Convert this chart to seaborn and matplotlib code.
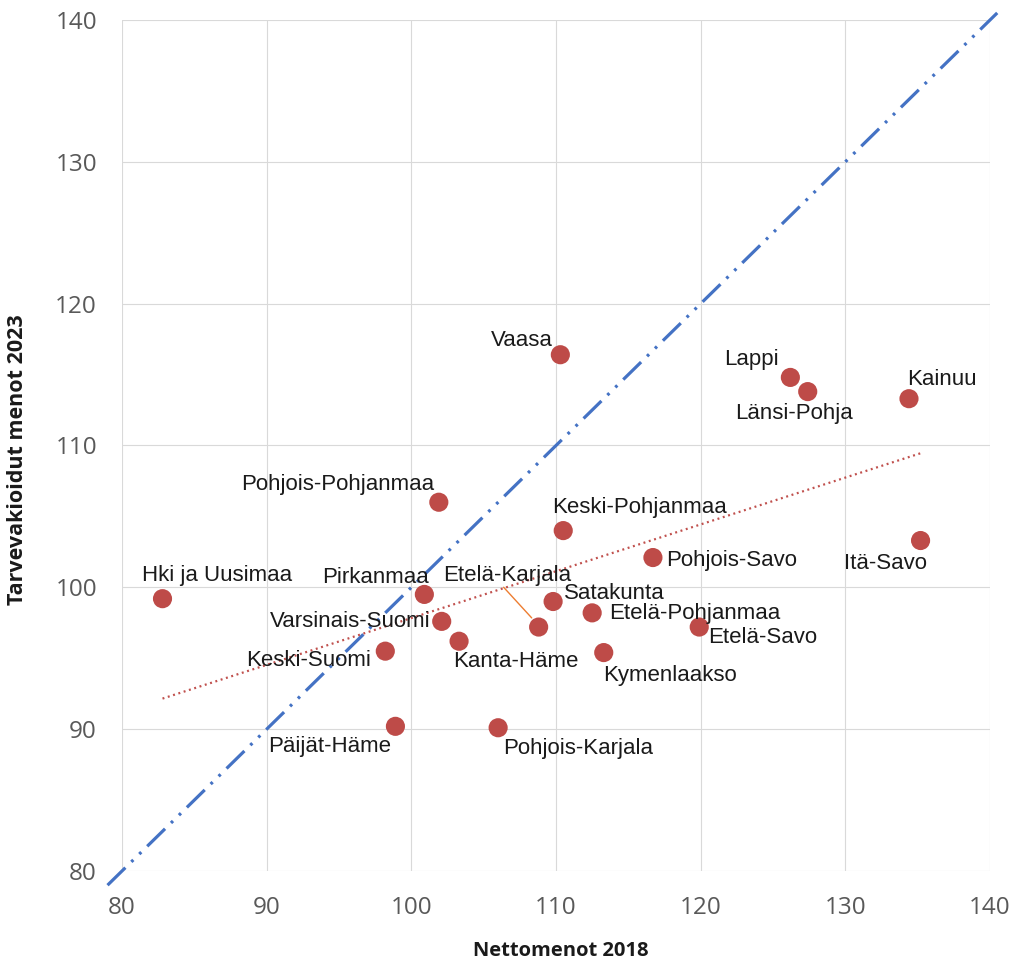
import numpy as np
import pandas as pd
import matplotlib
matplotlib.use("Agg")
import matplotlib.pyplot as plt
import seaborn as sns

# Regional spending indices
regions = ["Hki ja Uusimaa", "Pohjois-Pohjanmaa", "Pirkanmaa", "Varsinais-Suomi",
           "Keski-Suomi", "Kanta-Häme", "Päijät-Häme", "Pohjois-Karjala",
           "Etelä-Karjala", "Satakunta", "Vaasa", "Keski-Pohjanmaa",
           "Etelä-Pohjanmaa", "Kymenlaakso", "Pohjois-Savo", "Etelä-Savo",
           "Lappi", "Länsi-Pohja", "Kainuu", "Itä-Savo"]
netto_2018 = [82.8, 101.9, 100.9, 102.1, 98.2, 103.3, 98.9, 106.0,
              108.8, 109.8, 110.3, 110.5, 112.5, 113.3, 116.7, 119.9,
              126.2, 127.4, 134.4, 135.2]
tarve_2023 = [99.2, 106.0, 99.5, 97.6, 95.5, 96.2, 90.2, 90.1,
              97.2, 99.0, 116.4, 104.0, 98.2, 95.4, 102.1, 97.2,
              114.8, 113.8, 113.3, 103.3]

x_ticks = [80, 90, 100, 110, 120, 130, 140]
y_ticks = [80, 90, 100, 110, 120, 130, 140]
x_title = "Nettomenot 2018"
y_title = "Tarvevakioidut menot 2023"

# Label offsets (points) relative to each marker
label_offsets = {
    "Hki ja Uusimaa": (39, 17), "Pohjois-Pohjanmaa": (-73, 13),
    "Pirkanmaa": (-35, 12), "Varsinais-Suomi": (-66, 0),
    "Keski-Suomi": (-55, -6.5), "Kanta-Häme": (41, -14.5),
    "Päijät-Häme": (-47.5, -14.5), "Pohjois-Karjala": (57.5, -15),
    "Etelä-Karjala": (-23, 37), "Satakunta": (44, 6),
    "Vaasa": (-27.5, 10), "Keski-Pohjanmaa": (55, 16.5),
    "Etelä-Pohjanmaa": (73.5, -0.7), "Kymenlaakso": (48, -16.5),
    "Pohjois-Savo": (57, -2.2), "Etelä-Savo": (45.5, -7.2),
    "Lappi": (-28, 13), "Länsi-Pohja": (-10, -16),
    "Kainuu": (24, 13.5), "Itä-Savo": (-25, -16.5),
}

df = pd.DataFrame({"region": regions, "x": netto_2018, "y": tarve_2023})

sns.set_theme(style="white")
plt.rcParams["lines.scale_dashes"] = False

W, H = 1014, 961
fig = plt.figure(figsize=(W / 100, H / 100), dpi=100)
ax = fig.add_axes([122 / W, 1 - 871 / H, 868 / W, 851 / H])

# Equality line y = x
diag = np.array([79.0, 140.5])
ax.plot(diag, diag, color="#4472C4", linewidth=2.3, clip_on=False,
        dashes=(18, 6, 2, 6, 2, 6), zorder=2)

# Linear trend across the observed range
slope, intercept = np.polyfit(df["x"], df["y"], 1)
tx = np.array([df["x"].min(), df["x"].max()])
ax.plot(tx, slope * tx + intercept, color="#C0504D", linewidth=1.6,
        dashes=(1.4, 2.6), zorder=2)

sns.scatterplot(data=df, x="x", y="y", ax=ax, s=190, color="#BE4B48",
                edgecolor="none", zorder=3, legend=False)

ax.set_xlim(80, 140)
ax.set_ylim(80, 140)
ax.set_xticks(x_ticks)
ax.set_yticks(y_ticks)
ax.set_xlabel("")
ax.set_ylabel("")
ax.grid(True, color="#D9D9D9", linewidth=0.8)
ax.set_axisbelow(True)
for s in ax.spines.values():
    s.set_visible(False)

for name, xv, yv in zip(regions, netto_2018, tarve_2023):
    dx, dy = label_offsets[name]
    ax.annotate(name, (xv, yv), xytext=(dx, dy), textcoords="offset points",
                ha="center", va="center", fontsize=16, color="#1a1a1a",
                family=["Liberation Sans", "DejaVu Sans"], zorder=4)

# Leader line for the displaced label
ek = regions.index("Etelä-Karjala")
ax.annotate("", xy=(netto_2018[ek] - 0.35, tarve_2023[ek] + 0.5),
            xytext=(106.25, 100.15),
            arrowprops=dict(arrowstyle="-", color="#ED7D31", linewidth=1.0))

ax.tick_params(axis="both", length=0, labelsize=17.5, labelcolor="#595959")
ax.tick_params(axis="y", pad=18)
ax.tick_params(axis="x", pad=18)
for lab in ax.get_xticklabels() + ax.get_yticklabels():
    lab.set_family(["Open Sans", "DejaVu Sans"])

fig.text(561 / W, 1 - 951 / H, x_title, ha="center", va="center",
         fontsize=14.5, fontweight="bold", color="#1a1a1a",
         family=["Open Sans", "DejaVu Sans"])
fig.text(18 / W, 1 - 460 / H, y_title, ha="center", va="center", rotation=90,
         fontsize=15.5, fontweight="bold", color="#1a1a1a",
         family=["Open Sans", "DejaVu Sans"])

fig.savefig("out.png", dpi=100, facecolor="white")
